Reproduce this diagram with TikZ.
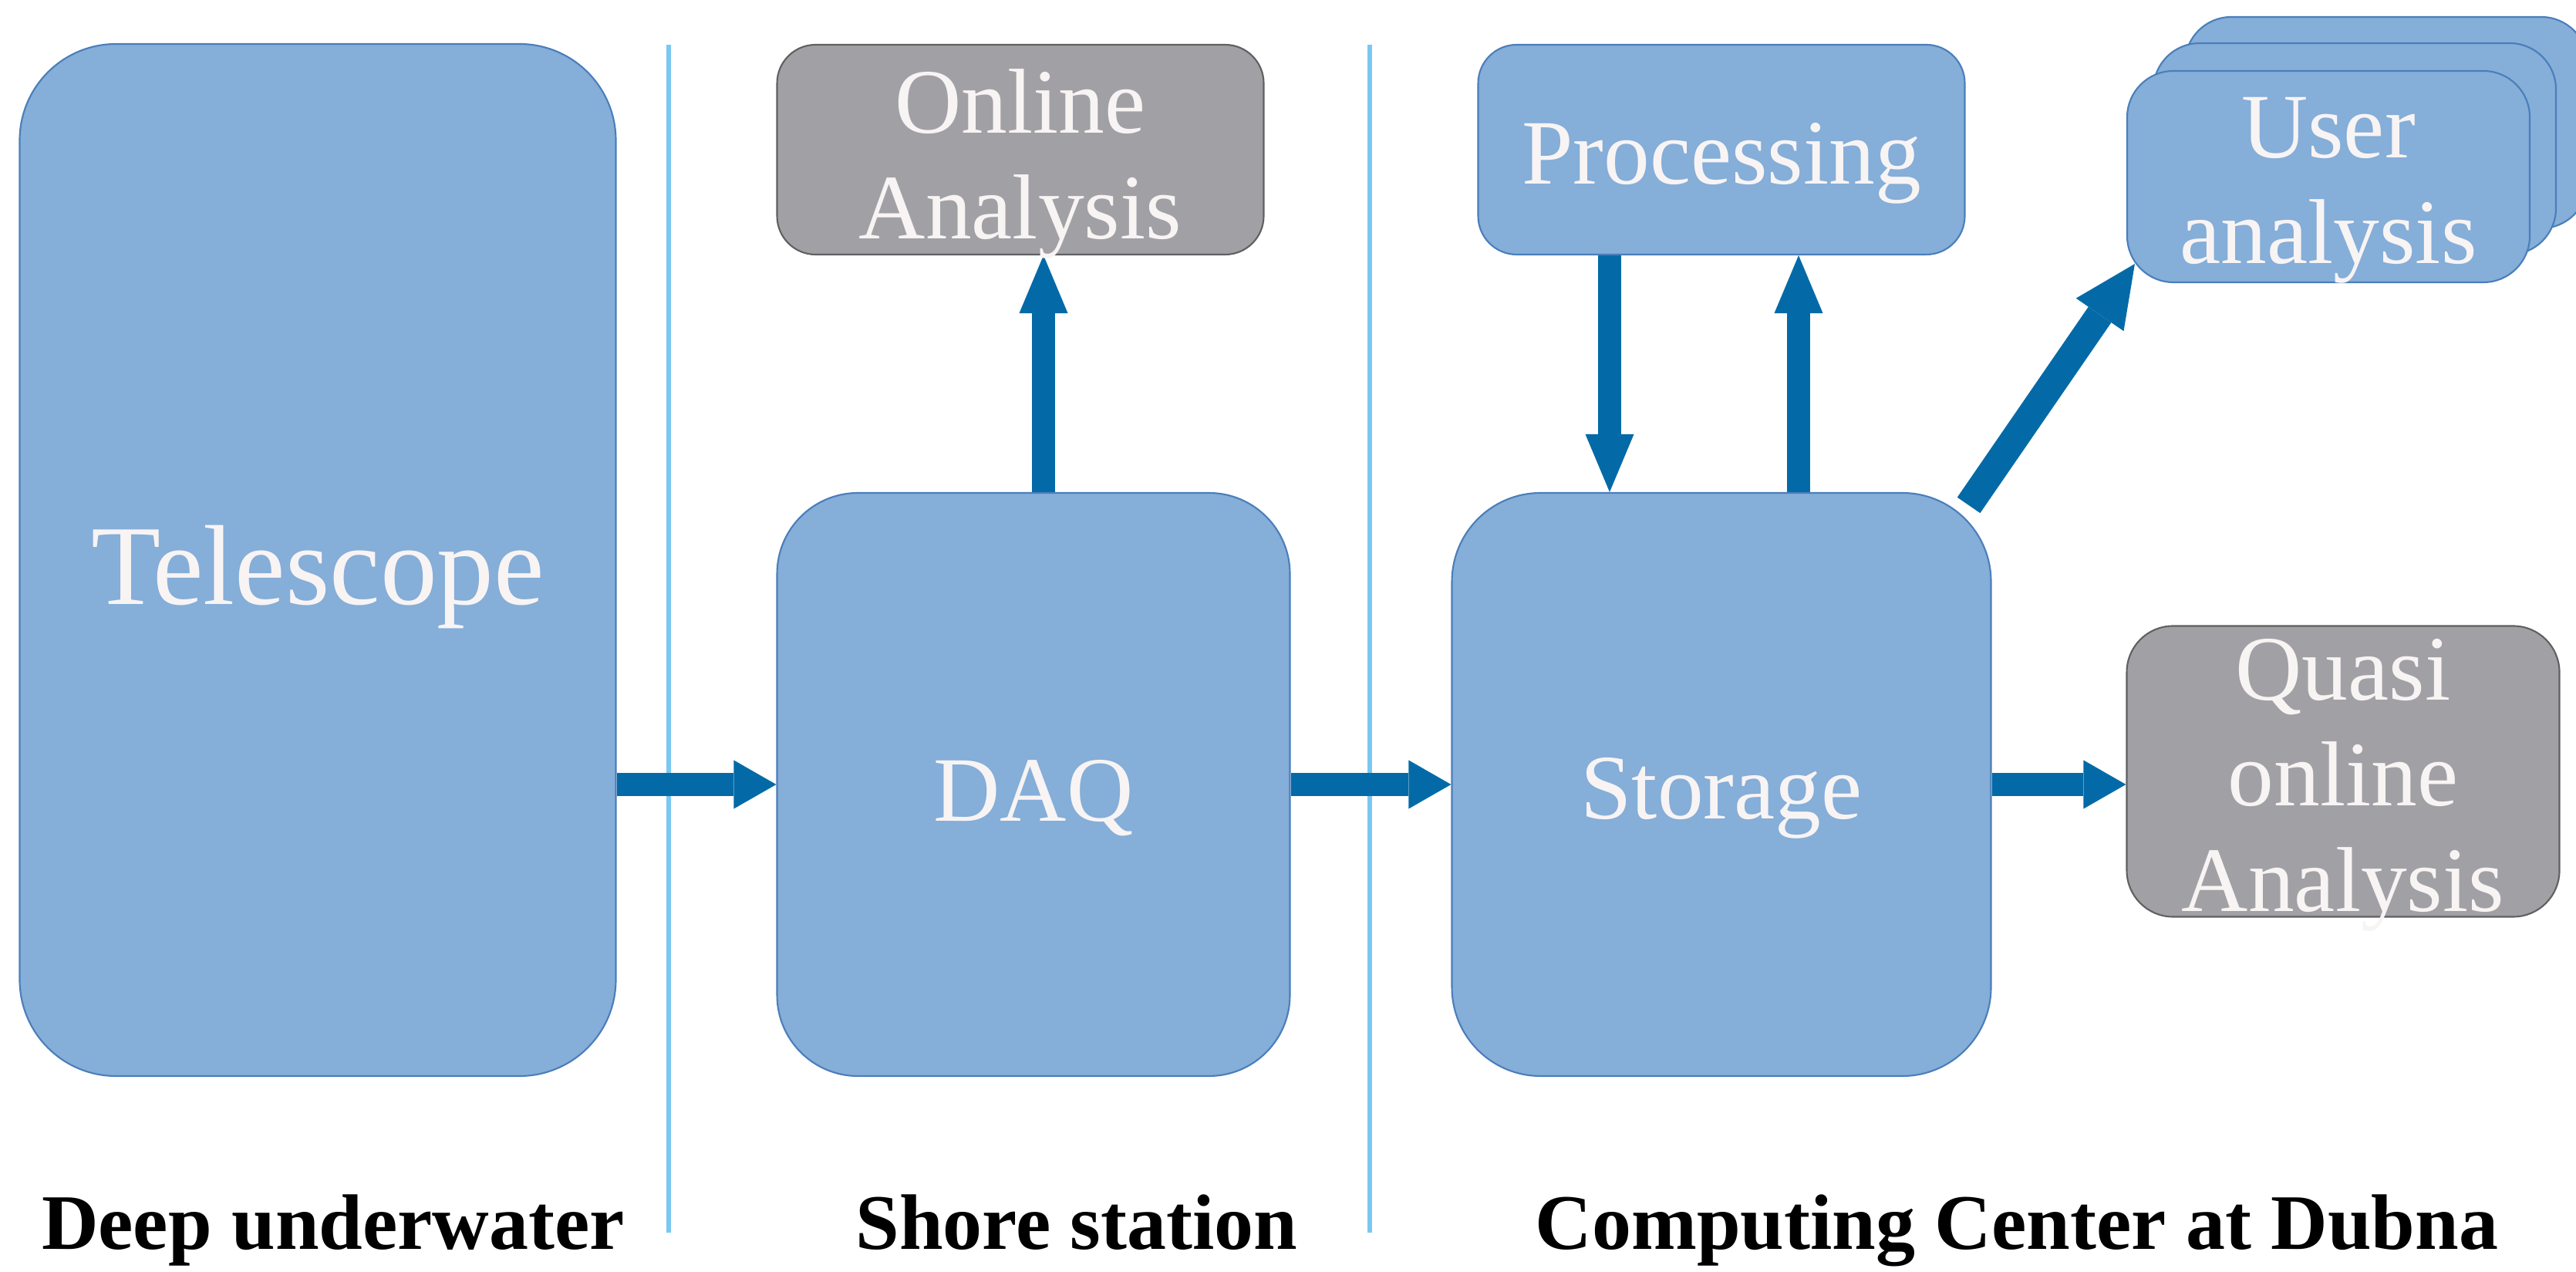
\documentclass[tikz,border=0pt]{standalone}
\usepackage{fontspec}
\setmainfont{Liberation Serif}
\usetikzlibrary{arrows.meta,backgrounds}

\definecolor{boxfill}{HTML}{85AED8}
\definecolor{boxline}{HTML}{4A7EBB}
\definecolor{greyfill}{HTML}{A1A1A5}
\definecolor{greyline}{HTML}{606060}
\definecolor{flowblue}{HTML}{046AA7}
\definecolor{sepblue}{HTML}{7AC8F2}
\definecolor{labelwhite}{HTML}{F8F4F4}

\tikzset{
  block/.style={draw=boxline, fill=boxfill, line width=0.6pt, inner sep=0pt},
  greyblock/.style={block, draw=greyline, fill=greyfill},
  boxtext/.style={text=labelwhite, align=center, inner sep=0pt, yshift=-0.18cm,
    font=\fontsize{34}{39}\selectfont},
  flow/.style={draw=flowblue, line width=0.3cm,
    -{Triangle[width=0.63cm,length=0.55cm,line width=0pt]}},
  flowv/.style={flow, -{Triangle[width=0.63cm,length=0.75cm,line width=0pt]}},
  flowd/.style={flow, line width=0.36cm, -{Triangle[width=0.75cm,length=0.8cm,line width=0pt]}},
  divider/.style={draw=sepblue, line width=1.6pt},
  zone/.style={anchor=base, font=\bfseries\fontsize{29}{34}\selectfont}
}

\begin{document}
\begin{tikzpicture}
  \useasboundingbox (0,0) rectangle (33.4,16.48);

  \node[block, minimum width=7.73cm, minimum height=13.38cm, rounded corners=1.25cm,
    label={[boxtext, yshift=-0.04cm, font=\fontsize{42}{48}\selectfont]center:Telescope}] (tel) at (4.12,9.22) {};
  \node[block, minimum width=6.65cm, minimum height=7.56cm, rounded corners=1.05cm,
    label={[boxtext]center:DAQ}] (daq) at (13.40,6.31) {};
  \node[block, minimum width=6.99cm, minimum height=7.56cm, rounded corners=1.15cm,
    label={[boxtext]center:Storage}] (sto) at (22.32,6.31) {};
  \node[greyblock, minimum width=6.31cm, minimum height=2.72cm, rounded corners=0.5cm,
    label={[boxtext]center:{Online\\Analysis}}] (onl) at (13.23,14.54) {};
  \node[block, minimum width=6.31cm, minimum height=2.72cm, rounded corners=0.5cm,
    label={[boxtext]center:Processing}] (proc) at (22.32,14.54) {};

  \foreach \i/\dx/\dy in {3/0.75/0.70, 2/0.34/0.36}
    \node[block, minimum width=5.22cm, minimum height=2.74cm, rounded corners=0.6cm] (ua\i) at (30.19+\dx,14.19+\dy) {};
  \node[block, minimum width=5.22cm, minimum height=2.74cm, rounded corners=0.6cm,
    label={[boxtext]center:{User\\analysis}}] (ua) at (30.19,14.19) {};
  \node[greyblock, minimum width=5.61cm, minimum height=3.77cm, rounded corners=0.6cm,
    label={[boxtext]center:{Quasi\\online\\Analysis}}] (quasi) at (30.38,6.48) {};

  \node[zone] (deep) at (4.32,0.29) {Deep underwater};
  \node[zone] (shore) at (13.96,0.29) {Shore station};
  \node[zone] (dubna) at (26.15,0.29) {Computing Center at Dubna};

  \begin{scope}[on background layer]
    \foreach \x in {8.67,17.76}
      \draw[divider] (\x,15.90) -- (\x,0.50);

    \draw[flow] (tel.east |- daq.west) -- (daq.west);
    \draw[flow] (daq.east) -- (sto.west);
    \draw[flow] (sto.east) -- (sto.east -| quasi.west);
    \draw[flowv] ([xshift=1.3mm]daq.north) -- ([xshift=1.3mm]daq.north |- onl.south);
    \draw[flowv] ([xshift=-14.5mm]proc.south) -- ([xshift=-14.5mm]proc.south |- sto.north);
    \draw[flowv] ([xshift=10mm]sto.north) -- ([xshift=10mm]sto.north |- proc.south);
    \draw[flowd] ([shift={(-0.3,-0.17)}]sto.north east) -- ([shift={(0.11,0.25)}]ua.south west);
  \end{scope}
\end{tikzpicture}
\end{document}
